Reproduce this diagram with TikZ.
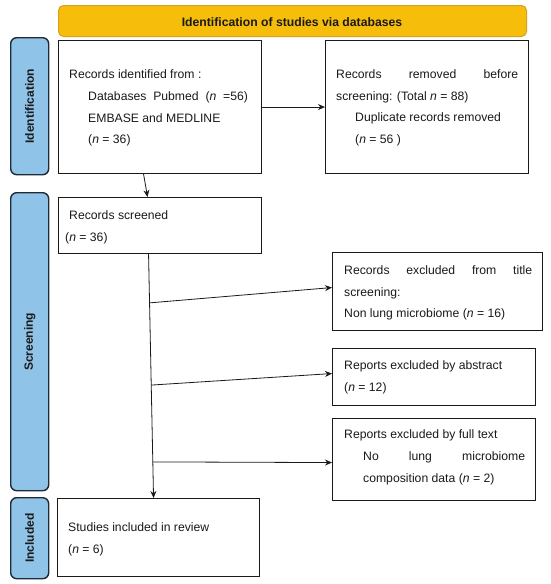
\documentclass[tikz,border=0pt]{standalone}
\usepackage{fontspec}
\setmainfont{Liberation Sans}
\usetikzlibrary{arrows.meta,calc}
\definecolor{banneryel}{HTML}{F6BD0A}
\definecolor{bannerline}{HTML}{D9A21A}
\definecolor{sideblue}{HTML}{8FC3E8}
\definecolor{sideline}{HTML}{1E2A36}
\definecolor{ink}{HTML}{1A1A1A}
\tikzset{
  banner/.style={draw=bannerline, fill=banneryel, line width=1pt, rounded corners=5pt, anchor=north west, inner sep=0pt},
  side/.style={draw=sideline, fill=sideblue, line width=1.4pt, rounded corners=6pt, anchor=north west, inner sep=0pt},
  sidetext/.style={rotate=90, font=\fontsize{12}{14}\selectfont\bfseries, text=ink, inner sep=0pt},
  flowbox/.style={draw=ink, line width=1.1pt, anchor=north west, inner sep=0pt, fill=white},
  txt/.style={anchor=west, inner sep=0pt, text=ink, font=\fontsize{12.2}{14}\selectfont},
  conn/.style={draw=ink, line width=0.8pt},
  arr/.style={conn, -{Stealth[length=7pt,width=6pt]}},
}
\begin{document}
\begin{tikzpicture}[x=1pt,y=-1pt]
\useasboundingbox (0,0) rectangle (550,584);
% banner
\node[banner, minimum width=468pt, minimum height=31pt] (ban) at (58,5) {};
\node[inner sep=0pt, text=ink, font=\fontsize{12.2}{14}\selectfont\bfseries] (bantxt) at (292,22) {Identification of studies via databases};
% side boxes
\node[side, minimum width=38pt, minimum height=137pt] (sid) at (10,37) {};
\node[sidetext] (sidt) at (sid.center) {Identification};
\node[side, minimum width=38pt, minimum height=298pt] (ssc) at (10,192) {};
\node[sidetext] (ssct) at (ssc.center) {Screening};
\node[side, minimum width=38pt, minimum height=81pt] (sin) at (10,497) {};
\node[sidetext] (sint) at (sin.center) {Included};
% main boxes
\node[flowbox, minimum width=203pt, minimum height=133pt] (idb) at (58,40) {};
\node[txt] (t1a) at (69,74) {Records identified from :};
\node[txt] (t1b) at (88,97) {Databases\ \ Pubmed\ \ (\textit{n}\ \ =56)};
\node[txt] (t1c) at (88,118) {EMBASE and MEDLINE};
\node[txt] (t1d) at (88,140) {(\textit{n} = 36)};

\node[flowbox, minimum width=203pt, minimum height=133pt] (rem) at (325,40) {};
\node[txt] (t2a) at (336,74) {\makebox[182pt][s]{Records removed before}};
\node[txt] (t2b) at (336,97) {screening: (Total \textit{n} = 88)};
\node[txt] (t2c) at (355,118) {Duplicate records removed};
\node[txt] (t2d) at (355,140) {(\textit{n} = 56 )};

\node[flowbox, minimum width=203pt, minimum height=56pt] (scr) at (58,197) {};
\node[txt] (t3a) at (69,215) {Records screened};
\node[txt] (t3b) at (65,238) {(\textit{n} = 36)};

\node[flowbox, minimum width=210pt, minimum height=78pt] (ex1) at (332,252) {};
\node[txt] (t4a) at (344,270) {\makebox[188pt][s]{Records excluded from title}};
\node[txt] (t4b) at (344,293) {screening:};
\node[txt] (t4c) at (344,314) {Non lung microbiome (\textit{n} = 16)};

\node[flowbox, minimum width=203pt, minimum height=57pt] (ex2) at (332,348) {};
\node[txt] (t5a) at (344,366) {Reports excluded by abstract};
\node[txt] (t5b) at (344,388) {(\textit{n} = 12)};

\node[flowbox, minimum width=203pt, minimum height=82pt] (ex3) at (332,418) {};
\node[txt] (t6a) at (344,435) {Reports excluded by full text};
\node[txt] (t6b) at (363,457) {\makebox[162pt][s]{No lung microbiome}};
\node[txt] (t6c) at (363,479) {composition data (\textit{n} = 2)};

\node[flowbox, minimum width=202pt, minimum height=78pt] (inc) at (57,498) {};
\node[txt] (t7a) at (68,527) {Studies included in review};
\node[txt] (t7b) at (68,550) {(\textit{n} = 6)};

% connectors
\draw[arr] (idb.east) -- (rem.west);
\draw[arr] ([xshift=-16.5pt]idb.south) -- ([xshift=-12.5pt]scr.north);
\coordinate (vtop) at ([xshift=-11.5pt]scr.south);
\coordinate (vbot) at ([xshift=-5pt]inc.north);
\draw[arr] (vtop) -- (vbot);
\coordinate (b1) at ($(vtop)!0.2!(vbot)$);
\coordinate (b2) at ($(vtop)!0.537!(vbot)$);
\coordinate (b3) at ($(vtop)!0.852!(vbot)$);
\draw[arr] (b1) -- ([yshift=4pt]ex1.west);
\draw[arr] (b2) -- ([yshift=3.5pt]ex2.west);
\draw[arr] (b3) -- ([yshift=-3pt]ex3.west);
\end{tikzpicture}
\end{document}
